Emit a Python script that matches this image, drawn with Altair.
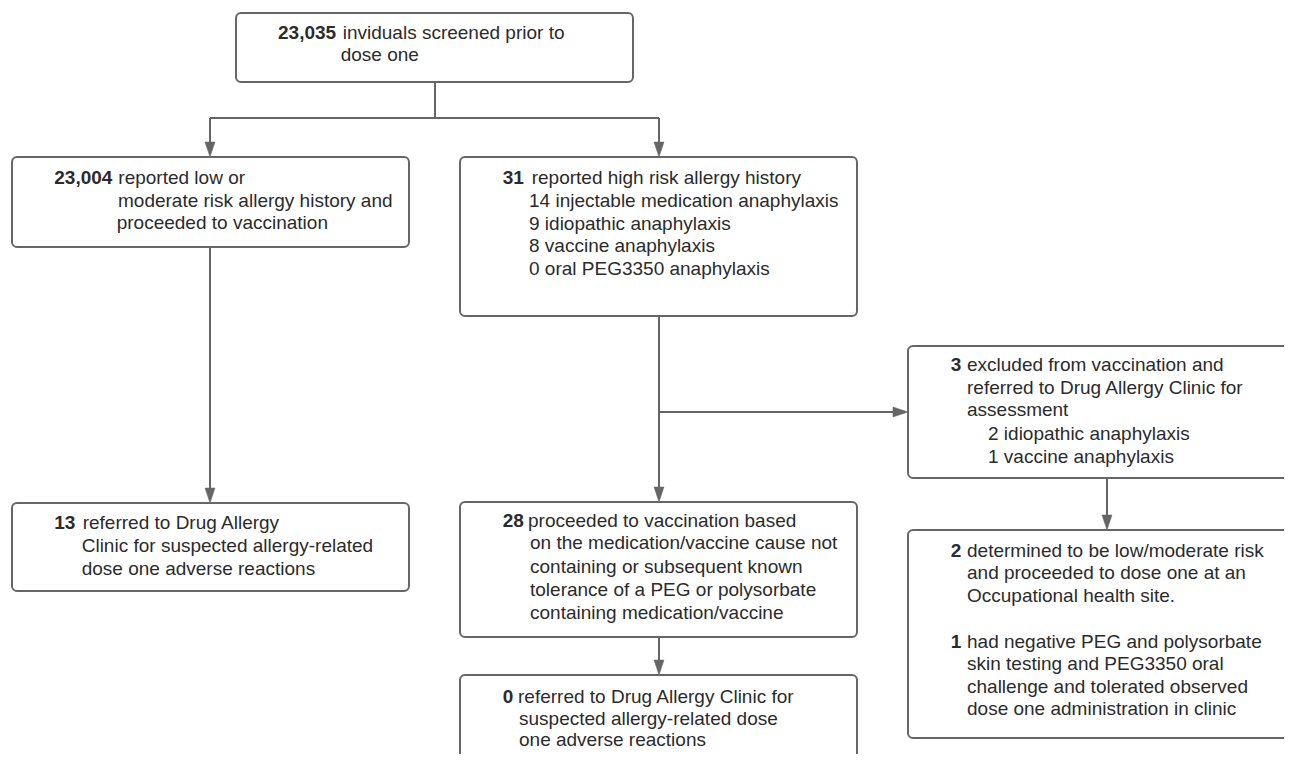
import altair as alt
import pandas as pd

# ---- boxes (page pixel coordinates) ----
box_id = ["screened", "low_mod", "high", "excluded", "ref13", "proc28", "ref0", "outcome"]
box_x0 = [236, 12, 460, 908, 12, 460, 460, 908]
box_x1 = [633, 409, 857, 1310, 409, 857, 857, 1310]
box_y0 = [13, 157, 157, 346, 503, 502, 675, 530]
box_y1 = [82, 247, 316, 478, 591, 637, 770, 738]

# ---- text lines ----
txt = [
    "23,035", "inviduals screened prior to", "dose one",
    "23,004", "reported low or", "moderate risk allergy history and", "proceeded to vaccination",
    "31", "reported high risk allergy history", "14 injectable medication anaphylaxis",
    "9 idiopathic anaphylaxis", "8 vaccine anaphylaxis", "0 oral PEG3350 anaphylaxis",
    "3", "excluded from vaccination and", "referred to Drug Allergy Clinic for", "assessment",
    "2 idiopathic anaphylaxis", "1 vaccine anaphylaxis",
    "13", "referred to Drug Allergy", "Clinic for suspected allergy-related", "dose one adverse reactions",
    "28", "proceeded to vaccination based", "on the medication/vaccine cause not",
    "containing or subsequent known", "tolerance of a PEG or polysorbate", "containing medication/vaccine",
    "0", "referred to Drug Allergy Clinic for", "suspected allergy-related dose", "one adverse reactions",
    "2", "determined to be low/moderate risk", "and proceeded to dose one at an", "Occupational health site.",
    "1", "had negative PEG and polysorbate", "skin testing and PEG3350 oral",
    "challenge and tolerated observed", "dose one administration in clinic",
]
txt_x = [
    278, 342.7, 340.7,
    54.3, 118.3, 118, 116.7,
    502.7, 531.7, 529, 529, 529, 529,
    950.7, 967, 967, 967, 988, 988,
    54.3, 82.7, 81.7, 81.7,
    502.7, 528, 530, 530, 530, 530,
    502.7, 518, 519, 519,
    950.7, 967, 967, 967,
    950.7, 967, 967, 967, 967,
]
txt_y = [
    33, 33, 55,
    178, 178, 200.5, 223,
    178.3, 178.3, 201, 223.5, 246, 269,
    365, 365, 387.5, 410, 434, 457,
    523, 523, 546, 568.5,
    520.7, 520.7, 543, 566.7, 590, 612.7,
    696.7, 696.7, 718.5, 740,
    550.7, 550.7, 573, 596,
    641.7, 641.7, 664, 686.7, 709,
]
bold_set = {0, 3, 7, 13, 19, 23, 29, 33, 37}
txt_w = ["bold" if i in bold_set else "normal" for i in range(len(txt))]

# ---- connectors ----
seg_x0 = [435, 210, 210, 659, 210, 659, 659, 1107, 659]
seg_y0 = [82, 118, 118, 118, 247, 316, 412, 478, 637]
seg_x1 = [435, 659, 210, 659, 210, 659, 900, 1107, 659]
seg_y1 = [118, 118, 150, 150, 496, 495, 412, 523, 668]

# ---- arrow heads (tip positions) ----
down_x = [210, 659, 210, 659, 1107, 659]
down_y = [157, 157, 503, 502, 530, 675]
right_x = [908]
right_y = [412]

W, H = 1276, 746
xs = alt.Scale(domain=[8, 8 + W], nice=False, zero=False)
ys = alt.Scale(domain=[8, 8 + H], nice=False, zero=False, reverse=True)
LINE = "#666666"
TEXT = "#2b2b2b"
FONT = "Liberation Sans"
FS = 19

boxes = pd.DataFrame({"id": box_id, "x0": box_x0, "x1": box_x1, "y0": box_y0, "y1": box_y1})
texts = pd.DataFrame({"t": txt, "x": txt_x, "y": txt_y, "w": txt_w})
segs = pd.DataFrame({"x0": seg_x0, "y0": seg_y0, "x1": seg_x1, "y1": seg_y1})
downs = pd.DataFrame({"x": down_x, "y": down_y})
rights = pd.DataFrame({"x": right_x, "y": right_y})

rect = alt.Chart(boxes).mark_rect(
    fill="white", stroke=LINE, strokeWidth=2, cornerRadius=5, clip=True
).encode(
    x=alt.X("x0:Q", scale=xs, axis=None), x2="x1:Q",
    y=alt.Y("y0:Q", scale=ys, axis=None), y2="y1:Q",
)

rules = alt.Chart(segs).mark_rule(color=LINE, strokeWidth=2, clip=True).encode(
    x=alt.X("x0:Q", scale=xs, axis=None), x2="x1:Q",
    y=alt.Y("y0:Q", scale=ys, axis=None), y2="y1:Q",
)

down_heads = alt.Chart(downs).mark_point(
    shape="M0,0L-0.667,-2L0.667,-2Z", size=225, filled=True, fill=LINE,
    stroke=LINE, strokeWidth=0.5, opacity=1,
).encode(
    x=alt.X("x:Q", scale=xs, axis=None), y=alt.Y("y:Q", scale=ys, axis=None)
)

right_heads = alt.Chart(rights).mark_point(
    shape="M0,0L-2,-0.667L-2,0.667Z", size=225, filled=True, fill=LINE,
    stroke=LINE, strokeWidth=0.5, opacity=1,
).encode(
    x=alt.X("x:Q", scale=xs, axis=None), y=alt.Y("y:Q", scale=ys, axis=None)
)


def text_layer(weight):
    return alt.Chart(texts).transform_filter(
        alt.datum.w == weight
    ).mark_text(
        align="left", baseline="middle", dy=0, font=FONT, fontSize=FS,
        color=TEXT, fontWeight=weight,
    ).encode(
        x=alt.X("x:Q", scale=xs, axis=None),
        y=alt.Y("y:Q", scale=ys, axis=None),
        text="t:N",
    )


chart = alt.layer(
    rect, rules, down_heads, right_heads, text_layer("normal"), text_layer("bold")
).properties(
    width=W, height=H, padding=0, autosize=alt.AutoSizeParams(type="none")
).configure_view(stroke=None)

chart.save("out.html", embed_options={"renderer": "svg", "actions": False})
